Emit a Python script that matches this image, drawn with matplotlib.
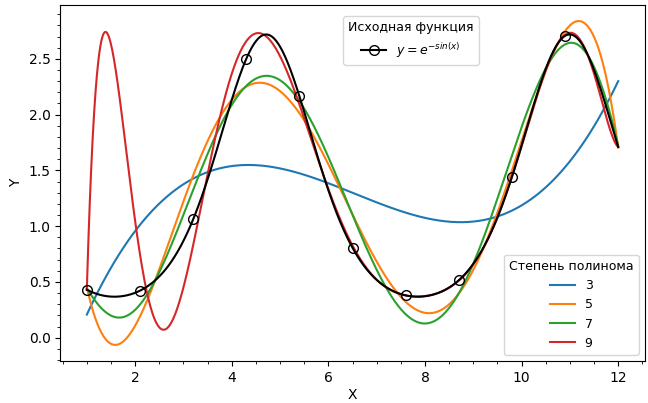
import matplotlib
matplotlib.use('Agg')
import matplotlib.pyplot as plt
import numpy as np

# fit nodes: 10 evenly spaced points on [1, 12] and the function values there
x_nodes = np.linspace(1, 12, 10)
y_nodes = [0.43107, 0.45148, 1.34749, 2.71544, 1.46838,
           0.47877, 0.41177, 1.13931, 2.65482, 1.71013]
degrees = [3, 5, 7, 9]

x_fine = np.linspace(1, 12, 1101)
y_true = np.exp(-np.sin(x_fine))
# circles every 1.1 along the curve (1, 2.1, ..., 10.9)
mark_idx = list(range(0, 1100, 110))

fig, ax = plt.subplots(figsize=(6.48, 4.03), dpi=100)
fig.subplots_adjust(left=0.093, right=0.995, top=0.988, bottom=0.104)

fit_lines = []
for d in degrees:
    coef = np.polyfit(x_nodes, y_nodes, d)
    line, = ax.plot(x_fine, np.polyval(coef, x_fine), label=str(d))
    fit_lines.append(line)

true_line, = ax.plot(x_fine, y_true, '-o', color='black', markerfacecolor='none',
                     markersize=7, markevery=mark_idx, label='$y = e^{-sin(x)}$')

leg1 = ax.legend(handles=[true_line], title='Исходная функция', fontsize=9,
                 title_fontsize=9, loc='upper center', bbox_to_anchor=(0.6, 0.985))
ax.add_artist(leg1)
ax.legend(handles=fit_lines, title='Степень полинома', fontsize=9,
          title_fontsize=9, loc='lower right')

ax.set_xlabel('X', labelpad=2)
ax.set_ylabel('Y')
ax.minorticks_on()

plt.savefig('out.png')
